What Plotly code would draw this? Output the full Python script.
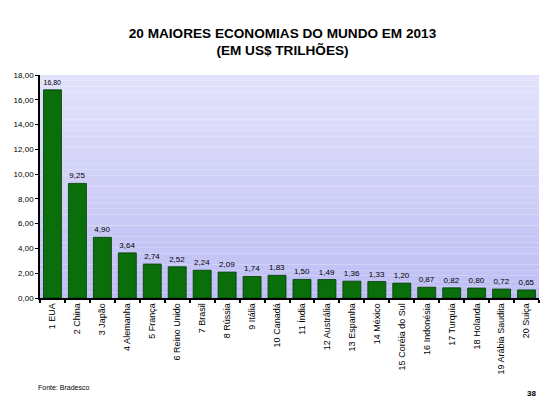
"""
20 maiores economias do mundo em 2013 (em US$ trilhoes) - bar chart.
"""

import plotly.graph_objects as go

COUNTRIES = [
    "1 EUA", "2 China", "3 Japão", "4 Alemanha", "5 França", "6 Reino Unido",
    "7 Brasil", "8 Rússia", "9 Itália", "10 Canadá", "11 Índia", "12 Austrália",
    "13 Espanha", "14 México", "15 Coréia do Sul", "16 Indonésia", "17 Turquia",
    "18 Holanda", "19 Arábia Saudita", "20 Suiça",
]
GDP_TRILLIONS = [
    16.80, 9.25, 4.90, 3.64, 2.74, 2.52, 2.24, 2.09, 1.74, 1.83,
    1.50, 1.49, 1.36, 1.33, 1.20, 0.87, 0.82, 0.80, 0.72, 0.65,
]
Y_MAX = 18
Y_STEP = 2

FONT = "Liberation Sans, Arial, sans-serif"


def _gradient_bands(n=40, top=(226, 226, 252), bottom=(190, 190, 244)):
    # plotly has no gradient plot background, so stack thin bands
    shapes = []
    for i in range(n):
        t = i / (n - 1)
        r, g, b = (round(top[k] + (bottom[k] - top[k]) * t) for k in range(3))
        shapes.append(dict(
            type="rect", xref="x domain", yref="y domain",
            x0=0, x1=1, y0=1 - (i + 1) / n, y1=1 - i / n,
            fillcolor=f"rgb({r},{g},{b})", line_width=0, layer="below",
        ))
    return shapes


fig = go.Figure(
    go.Bar(
        x=COUNTRIES,
        y=GDP_TRILLIONS,
        marker_color="#0a6f0a",
        marker_line_color="#003a00",
        marker_line_width=0.8,
        texttemplate="%{y:.2f}",
        textposition="outside",
        textfont=dict(family=FONT, size=8, color="black"),
        cliponaxis=False,
        hovertemplate="%{x}: %{y:.2f}<extra></extra>",
    )
)

# the page body keeps its default 8px margin, so the figure is 8px smaller
fig.update_layout(
    width=549,
    height=411,
    margin=dict(l=32, r=18, t=67, b=121, autoexpand=False),
    paper_bgcolor="white",
    plot_bgcolor="rgba(0,0,0,0)",
    separators=",.",
    bargap=0.28,
    showlegend=False,
    font=dict(family=FONT, size=8, color="black"),
    title=dict(
        text="<b>20 MAIORES ECONOMIAS DO MUNDO EM 2013<br>(EM US$ TRILHÕES)</b>",
        x=0.5, xanchor="center", y=0.928, yanchor="middle",
        font=dict(family=FONT, size=13.6, color="black"),
    ),
    shapes=_gradient_bands(),
    annotations=[
        dict(text="Fonte: Bradesco", xref="paper", yref="paper",
             x=-0.008, y=-0.4, xanchor="left", yanchor="middle",
             showarrow=False, font=dict(family=FONT, size=7)),
        dict(text="<b>38</b>", xref="paper", yref="paper",
             x=0.997, y=-0.427, xanchor="right", yanchor="middle",
             showarrow=False, font=dict(family=FONT, size=8)),
    ],
)

fig.update_xaxes(
    type="category",
    automargin=False,
    tickangle=-90,
    tickson="boundaries",
    ticks="outside",
    ticklen=3,
    tickwidth=1.5,
    tickcolor="black",
    showline=True,
    linecolor="black",
    linewidth=1.5,
    showgrid=False,
    tickfont=dict(family=FONT, size=9),
)
fig.update_yaxes(
    automargin=False,
    range=[0, Y_MAX],
    dtick=Y_STEP,
    tickformat=".2f",
    ticks="outside",
    ticklen=3,
    tickcolor="black",
    showline=True,
    linecolor="black",
    linewidth=1.5,
    showgrid=False,
    zeroline=False,
    tickfont=dict(family=FONT, size=8),
)

fig.write_html("out.html")
